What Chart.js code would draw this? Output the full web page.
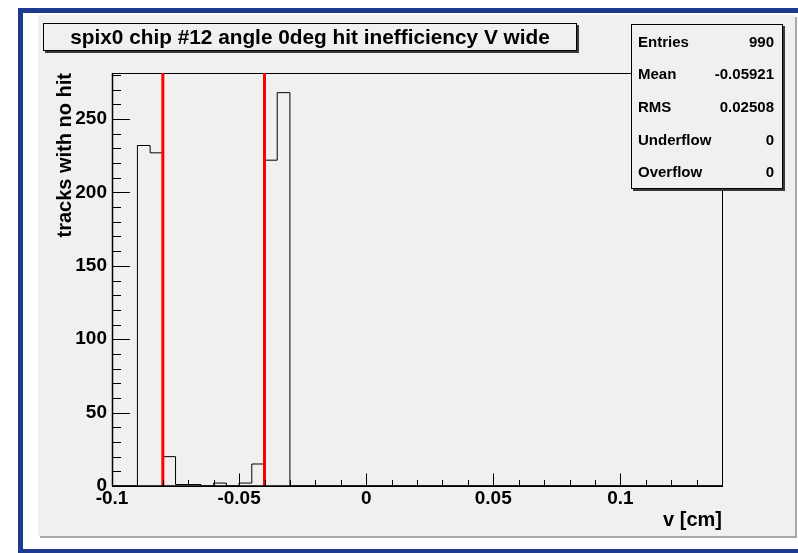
<!DOCTYPE html>
<html>
<head>
<meta charset="utf-8">
<script src="https://cdn.jsdelivr.net/npm/chart.js@4/dist/chart.umd.min.js"></script>
<style>
  html, body { margin:0; padding:0; background:#fff; overflow:hidden; width:798px; height:553px; }
  #blueFrame { position:absolute; left:18px; top:8px; width:800px; height:546px; box-sizing:border-box; border:5px solid #1f3a8c; }
  #pad { position:absolute; left:38px; top:15px; width:757px; height:521px; background:#f0f0f0; box-shadow:2px 2px 0 #a8a8a8; }
  #chartCanvas { position:absolute; left:0; top:0; }
  #titleBox { position:absolute; left:43px; top:23px; width:534px; height:28px; box-sizing:border-box; border:1px solid #000;
    background:#f0f0f0; box-shadow:2px 2px 0 #3a3a3a; font:bold 20.8px "Liberation Sans", Arial, Helvetica, sans-serif;
    line-height:26px; text-align:center; color:#000; white-space:nowrap; }
  #statsBox { position:absolute; left:631px; top:24px; width:152px; height:165px; box-sizing:border-box; border:1px solid #000;
    background:#f0f0f0; box-shadow:2px 2px 0 #3a3a3a; font:bold 15px "Liberation Sans", Arial, Helvetica, sans-serif; color:#000; }
  .row { display:flex; justify-content:space-between; align-items:center; height:32.6px; padding:0 8px 0 6px; }
</style>
</head>
<body>
<div id="blueFrame"></div>
<div id="pad"></div>
<canvas id="chartCanvas" width="798" height="553"></canvas>
<div id="titleBox"></div>
<div id="statsBox"></div>
<script>
// ---- data ----
const histTitle = "spix0 chip #12 angle 0deg hit inefficiency V wide";
const xAxisTitle = "v [cm]";
const yAxisTitle = "tracks with no hit";
const histXMin = -0.1;
const histXMax = 0.14;
const histBinWidth = 0.005;
const binCounts = [
  0, 0, 232, 227, 20, 1, 1, 0, 2, 0, 2, 15, 222, 268,
  0, 0, 0, 0, 0, 0, 0, 0, 0, 0, 0, 0, 0, 0, 0, 0,
  0, 0, 0, 0, 0, 0, 0, 0, 0, 0, 0, 0, 0, 0, 0, 0, 0, 0
];
const cutValues = [-0.08, -0.04];
const xTickValues = [-0.1, -0.05, 0, 0.05, 0.1];
const xTickLabels = ["-0.1", "-0.05", "0", "0.05", "0.1"];
const yTickValues = [0, 50, 100, 150, 200, 250];
const yTickLabels = ["0", "50", "100", "150", "200", "250"];
const yMax = 281.4;
const xMinorStep = 0.01;
const yMinorStep = 10;
const statsNames = ["Entries", "Mean", "RMS", "Underflow", "Overflow"];
const statsValues = ["990", "-0.05921", "0.02508", "0", "0"];

// ---- text boxes ----
document.getElementById('titleBox').textContent = histTitle;
const sb = document.getElementById('statsBox');
statsNames.forEach((n, i) => {
  const r = document.createElement('div'); r.className = 'row';
  const a = document.createElement('span'); a.textContent = n;
  const b = document.createElement('span'); b.textContent = statsValues[i];
  r.appendChild(a); r.appendChild(b); sb.appendChild(r);
});

// ---- histogram outline points (bin low edges + final edge) ----
const histPoints = binCounts.map((c, i) => ({ x: histXMin + i * histBinWidth, y: c }));
histPoints.push({ x: histXMax, y: binCounts[binCounts.length - 1] });

const cutDatasets = cutValues.map(v => ({
  type: 'line',
  order: 0,
  data: [{ x: v, y: 0 }, { x: v, y: yMax }],
  borderColor: '#ff0000', borderWidth: 3, pointRadius: 0, fill: false, clip: false
}));

const FONT = '"Liberation Sans", Arial, Helvetica, sans-serif';

const rootAxes = {
  id: 'rootAxes',
  beforeDatasetsDraw(chart) {
    const { ctx, chartArea: a, scales: { x, y } } = chart;
    ctx.save();
    ctx.strokeStyle = '#000';
    ctx.lineWidth = 1;
    // frame
    ctx.strokeRect(a.left + 0.5, a.top + 0.5, a.right - a.left, a.bottom - a.top);
    ctx.restore();
  },
  afterDatasetsDraw(chart) {
    const { ctx, chartArea: a, scales: { x, y } } = chart;
    ctx.save();
    ctx.strokeStyle = '#000';
    ctx.lineWidth = 1.5;
    ctx.beginPath();
    ctx.moveTo(a.left, a.bottom); ctx.lineTo(a.right, a.bottom);
    ctx.moveTo(a.left + 0.5, a.top); ctx.lineTo(a.left + 0.5, a.bottom);
    ctx.stroke();
    ctx.lineWidth = 1;
    ctx.beginPath();
    // x ticks
    const nx = Math.round((histXMax - histXMin) / xMinorStep);
    for (let i = 0; i <= nx; i++) {
      const v = histXMin + i * xMinorStep;
      const isMajor = xTickValues.some(t => Math.abs(t - v) < 1e-9);
      const px = Math.round(x.getPixelForValue(v)) + 0.5;
      ctx.moveTo(px, a.bottom);
      ctx.lineTo(px, a.bottom - (isMajor ? 12.5 : 6));
    }
    // y ticks
    const ny = Math.floor(yMax / yMinorStep);
    for (let i = 0; i <= ny; i++) {
      const v = i * yMinorStep;
      const isMajor = yTickValues.includes(v);
      const py = Math.round(y.getPixelForValue(v)) + 0.5;
      ctx.moveTo(a.left, py);
      ctx.lineTo(a.left + (isMajor ? 18 : 9), py);
    }
    ctx.stroke();
    ctx.restore();
  }
};

new Chart(document.getElementById('chartCanvas'), {
  type: 'line',
  data: {
    datasets: [{
      data: histPoints,
      order: 1,
      stepped: 'before',
      borderColor: '#000', borderWidth: 1, pointRadius: 0, fill: false
    }, ...cutDatasets]
  },
  options: {
    responsive: false,
    devicePixelRatio: 1,
    animation: false,
    events: [],
    layout: { padding: { left: 0, top: 73, right: 76, bottom: 0 } },
    plugins: { legend: { display: false }, tooltip: { enabled: false }, title: { display: false } },
    scales: {
      x: {
        type: 'linear', min: histXMin, max: histXMax,
        grid: { display: false, drawTicks: false }, border: { display: false },
        afterBuildTicks: s => { s.ticks = xTickValues.map(v => ({ value: v })); },
        afterFit: s => { s.height = 67; },
        ticks: { padding: 1, color: '#000', maxRotation: 0, autoSkip: false,
          font: { family: FONT, size: 19, weight: 'bold' },
          callback: (v, i) => xTickLabels[i] },
        title: { display: true, text: xAxisTitle, align: 'end', color: '#000',
          font: { family: FONT, size: 20, weight: 'bold' }, padding: { top: 0, bottom: 21 } }
      },
      y: {
        type: 'linear', min: 0, max: yMax,
        grid: { display: false, drawTicks: false }, border: { display: false },
        afterBuildTicks: s => { s.ticks = yTickValues.map(v => ({ value: v })); },
        afterFit: s => { s.width = 112; },
        ticks: { padding: 5, color: '#000', autoSkip: false,
          font: { family: FONT, size: 19, weight: 'bold' },
          callback: (v, i) => yTickLabels[i] },
        title: { display: true, text: yAxisTitle, align: 'end', color: '#000',
          font: { family: FONT, size: 20, weight: 'bold' }, padding: { top: 53, bottom: 0 } }
      }
    }
  },
  plugins: [rootAxes]
});
</script>
</body>
</html>
